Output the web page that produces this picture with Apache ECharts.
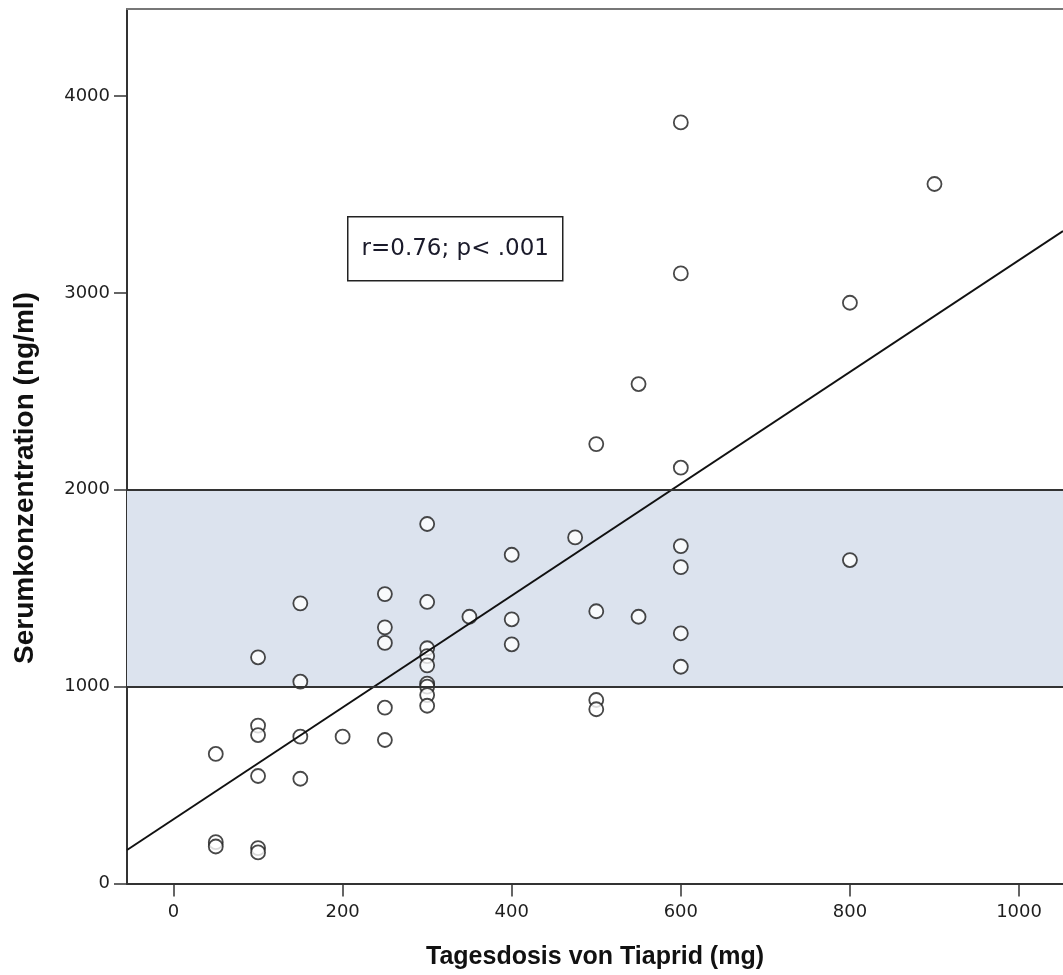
<!DOCTYPE html>
<html>
<head>
<meta charset="utf-8">
<script src="https://cdn.jsdelivr.net/npm/echarts@6/dist/echarts.min.js"></script>
<style>html,body{margin:0;padding:0;background:#fff;}#c{width:1063px;height:975px;}</style>
</head>
<body>
<div id="c"></div>
<script>
// Data
const doseMg = [
  50, 50, 50,
  100, 100, 100, 100, 100, 100,
  150, 150, 150, 150,
  200,
  250, 250, 250, 250, 250,
  300, 300, 300, 300, 300, 300, 300, 300, 300,
  350,
  400, 400, 400,
  475,
  500, 500, 500, 500,
  550, 550,
  600, 600, 600, 600, 600, 600, 600,
  800, 800,
  900
];
const serumNgMl = [
  658, 210, 188,
  1149, 802, 754, 546, 180, 158,
  1423, 1025, 746, 532,
  746,
  1470, 1301, 1222, 893, 729,
  1826, 1430, 1195, 1155, 1108, 1015, 1000, 957, 903,
  1355,
  1670, 1342, 1215,
  1758,
  2232, 1383, 932, 885,
  2537, 1355,
  3866, 3099, 2112, 1714, 1607, 1271, 1101,
  2950, 1643,
  3553
];
const fitLineX = [-55, 1052];
const fitLineY = [170, 3314];
const rangeLow = 1000;
const rangeHigh = 2000;
const xTicks = [0, 200, 400, 600, 800, 1000];
const yTicks = [0, 1000, 2000, 3000, 4000];
const xLimits = [-55, 1052];
const yLimits = [0, 4442];
const statText = 'r=0.76; p< .001';
const xTitle = 'Tagesdosis von Tiaprid (mg)';
const yTitle = 'Serumkonzentration (ng/ml)';

const points = doseMg.map((d, i) => [d, serumNgMl[i]]);
const fit = fitLineX.map((x, i) => [x, fitLineY[i]]);
const plain = v => String(v);

const chart = echarts.init(document.getElementById('c'), null, {renderer: 'canvas'});
chart.setOption({
  animation: false,
  backgroundColor: '#ffffff',
  grid: {left: 127, right: 0, top: 9, bottom: 91.5, containLabel: false},
  xAxis: [{
    type: 'value',
    position: 'bottom',
    min: xLimits[0], max: xLimits[1],
    splitLine: {show: false},
    axisLine: {show: true, onZero: false, lineStyle: {color: '#333333', width: 2}},
    axisTick: {show: true, length: 13, customValues: xTicks, lineStyle: {color: '#333333', width: 1.5}},
    axisLabel: {show: true, customValues: xTicks, formatter: plain, margin: 20, fontFamily: 'DejaVu Sans', fontSize: 18, color: '#1e1e1e'},
    name: xTitle,
    nameLocation: 'middle',
    nameGap: 61,
    nameTextStyle: {fontFamily: 'Liberation Sans', fontWeight: 'bold', fontSize: 25, color: '#111111'}
  }, {
    type: 'value',
    position: 'top',
    min: xLimits[0], max: xLimits[1],
    splitLine: {show: false},
    axisLine: {show: true, onZero: false, lineStyle: {color: '#777777', width: 2}},
    axisTick: {show: false},
    axisLabel: {show: false}
  }],
  yAxis: {
    type: 'value',
    min: yLimits[0], max: yLimits[1],
    splitLine: {show: false},
    axisLine: {show: true, onZero: false, lineStyle: {color: '#333333', width: 2}},
    axisTick: {show: true, length: 13, customValues: yTicks, lineStyle: {color: '#333333', width: 1.5}},
    axisLabel: {show: true, customValues: yTicks, formatter: plain, margin: 17, fontFamily: 'DejaVu Sans', fontSize: 18, color: '#1e1e1e'}
  },
  series: [
    {
      type: 'scatter',
      xAxisIndex: 0,
      data: [],
      silent: true,
      z: 1,
      markArea: {
        silent: true,
        itemStyle: {color: '#dce3ee'},
        data: [[{yAxis: rangeLow}, {yAxis: rangeHigh}]]
      }
    },
    {
      type: 'scatter',
      xAxisIndex: 0,
      data: points,
      symbol: 'circle',
      symbolSize: 14,
      itemStyle: {color: '#ffffff', borderColor: '#1a1a1a', borderWidth: 1.8},
      z: 3
    },
    {
      type: 'line',
      xAxisIndex: 0,
      data: fit,
      symbol: 'none',
      lineStyle: {color: '#111111', width: 2},
      z: 4,
      markLine: {
        silent: true,
        symbol: 'none',
        label: {show: false},
        lineStyle: {color: '#333333', width: 2, type: 'solid'},
        data: [{yAxis: rangeLow}, {yAxis: rangeHigh}]
      }
    }
  ],
  graphic: [
    {
      type: 'text',
      x: 25, y: 478,
      rotation: Math.PI / 2,
      style: {text: yTitle, fontFamily: 'Liberation Sans', fontWeight: 'bold', fontSize: 28, fill: '#111111', align: 'center', verticalAlign: 'middle'}
    },
    {
      type: 'group',
      left: 347, top: 216,
      children: [
        {type: 'rect', shape: {x: 0, y: 0, width: 215, height: 64}, style: {fill: '#ffffff', stroke: '#222222', lineWidth: 1.5}},
        {type: 'text', x: 107.5, y: 32, style: {text: statText, fontFamily: 'DejaVu Sans', fontSize: 23, fill: '#1a1a2a', align: 'center', verticalAlign: 'middle'}}
      ]
    }
  ]
});
</script>
</body>
</html>
